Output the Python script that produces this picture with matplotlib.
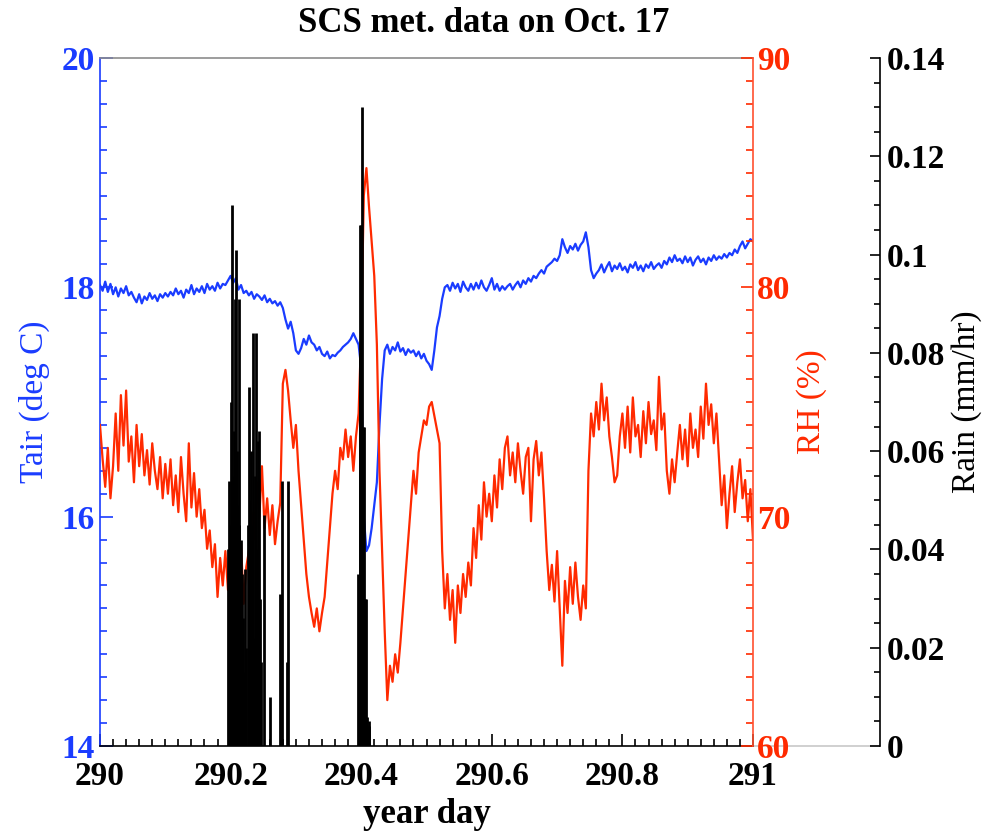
import numpy as np
import matplotlib
matplotlib.use('Agg')
import matplotlib.pyplot as plt
from matplotlib.ticker import MultipleLocator, FuncFormatter

plt.rcParams['font.family'] = ['Liberation Serif', 'DejaVu Serif']
plt.rcParams['font.weight'] = 'bold'

# ---------------- data ----------------
day_start = 290.0
day_step = 0.004   # regular sampling of the record

tair = [
    18.02, 17.97, 18.05, 17.96, 18.03, 17.94, 18.00, 17.92, 17.99, 17.95,
    18.01, 17.93, 17.96, 17.91, 17.87, 17.94, 17.86, 17.92, 17.89, 17.95,
    17.90, 17.93, 17.88, 17.94, 17.91, 17.95, 17.92, 17.96, 17.93, 17.99,
    17.94, 17.97, 17.91, 17.98, 17.95, 18.02, 17.94, 17.99, 17.96, 18.01,
    17.95, 18.03, 17.98, 18.01, 17.97, 18.04, 17.99, 18.03, 18.02, 18.06,
    18.10, 18.04, 18.08, 17.98, 18.02, 17.95, 17.97, 17.93, 17.96, 17.90,
    17.94, 17.92, 17.89, 17.93, 17.87, 17.90, 17.86, 17.88, 17.84, 17.87,
    17.82, 17.72, 17.64, 17.70, 17.60, 17.45, 17.42, 17.47, 17.55, 17.50,
    17.58, 17.52, 17.50, 17.45, 17.48, 17.42, 17.40, 17.44, 17.38, 17.41,
    17.40, 17.43, 17.45, 17.48, 17.50, 17.52, 17.55, 17.60, 17.55, 17.50,
    17.30, 16.00, 15.70, 15.75, 15.90, 16.10, 16.30, 16.80, 17.20, 17.45,
    17.50, 17.42, 17.48, 17.45, 17.52, 17.44, 17.47, 17.41, 17.46, 17.43,
    17.45, 17.40, 17.44, 17.38, 17.42, 17.36, 17.33, 17.28, 17.45, 17.65,
    17.75, 17.90, 18.00, 18.02, 17.97, 18.04, 17.99, 18.03, 17.96, 18.05,
    18.00, 17.97, 18.03, 17.98, 18.04, 17.99, 18.06, 18.00, 17.97, 18.02,
    18.08, 17.98, 18.03, 17.97, 18.01, 17.98, 18.01, 18.03, 17.98, 18.02,
    18.05, 18.00, 18.06, 18.03, 18.08, 18.05, 18.10, 18.08, 18.12, 18.15,
    18.12, 18.18, 18.20, 18.22, 18.25, 18.23, 18.28, 18.42, 18.35, 18.30,
    18.36, 18.33, 18.38, 18.32, 18.37, 18.40, 18.48, 18.35, 18.15, 18.08,
    18.12, 18.15, 18.20, 18.13, 18.18, 18.22, 18.14, 18.19, 18.16, 18.21,
    18.15, 18.18, 18.13, 18.20, 18.17, 18.22, 18.15, 18.19, 18.14, 18.20,
    18.17, 18.22, 18.16, 18.19, 18.21, 18.17, 18.23, 18.20, 18.26, 18.22,
    18.28, 18.23, 18.25, 18.21, 18.27, 18.22, 18.26, 18.19, 18.24, 18.27,
    18.22, 18.25, 18.20, 18.26, 18.23, 18.28, 18.24, 18.27, 18.25, 18.29,
    18.26, 18.30, 18.28, 18.33, 18.30, 18.36, 18.40, 18.34, 18.38, 18.42,
    18.40,
]

rh = [
    74.0, 72.5, 71.3, 73.0, 70.8, 72.2, 74.5, 72.0, 75.3, 73.1,
    75.5, 72.4, 73.5, 71.5, 74.0, 72.2, 73.6, 71.8, 72.9, 71.4,
    73.2, 72.0, 71.2, 72.6, 70.8, 72.3, 71.0, 72.5, 70.5, 71.8,
    70.2, 72.6, 71.0, 69.8, 73.2, 70.4, 71.9, 70.0, 71.2, 69.5,
    70.3, 68.6, 69.4, 67.8, 68.8, 66.5, 68.2, 67.0, 68.5, 66.8,
    68.0, 67.2, 69.0, 67.5, 68.8, 66.2, 67.8, 68.5, 70.2, 69.0,
    71.5, 70.0, 72.2, 69.5, 70.8, 69.2, 70.5, 68.8, 69.8, 70.6,
    75.8, 76.4, 75.5, 74.2, 73.0, 74.0, 72.0, 70.5, 69.0, 67.5,
    66.5, 65.8, 65.2, 66.0, 65.0, 65.8, 66.5, 68.0, 69.5, 71.0,
    72.0, 71.2, 73.0, 72.5, 73.8, 72.6, 73.5, 72.0, 73.5, 74.5,
    78.0, 84.0, 85.2, 83.5, 82.0, 80.5, 77.5, 72.0, 68.5, 65.0,
    62.0, 63.5, 62.8, 64.0, 63.2, 64.5, 66.0, 67.5, 69.0, 70.5,
    72.0, 71.0, 72.8, 73.5, 74.2, 74.0, 74.8, 75.0, 74.4, 73.8,
    73.2, 68.5, 66.0, 67.5, 65.5, 66.8, 64.5, 67.0, 65.8, 67.5,
    66.5, 68.0, 67.0, 69.5, 68.2, 70.5, 69.0, 71.5, 70.0, 71.0,
    69.8, 71.8, 70.4, 72.5, 71.2, 73.0, 73.5, 71.8, 72.8, 71.5,
    73.2, 72.0, 71.0, 72.6, 73.0, 69.8, 72.5, 73.3, 71.8, 72.8,
    70.8, 68.5, 66.8, 67.9, 66.3, 68.5, 66.0, 63.5, 67.2, 65.8,
    67.8, 66.2, 68.0, 66.5, 65.5, 67.0, 66.0, 72.0, 74.5, 73.5,
    75.0, 73.8, 75.8, 74.2, 75.2, 73.5, 72.6, 71.5, 71.8, 73.5,
    74.5, 73.0, 74.8, 72.8, 75.2, 73.5, 74.0, 72.6, 74.6, 73.2,
    75.0, 73.6, 74.2, 72.9, 76.1, 73.8, 74.5, 72.0, 71.0, 72.5,
    71.5, 72.8, 74.0, 72.5, 73.8, 72.2, 74.5, 73.0, 73.8, 72.6,
    74.8, 73.4, 75.8, 74.0, 74.9, 73.2, 74.5, 72.5, 70.5, 71.8,
    69.5, 71.0, 72.2, 70.2, 71.5, 72.5, 70.8, 71.6, 69.8, 71.2,
    69.0,
]

rain_day = [
    290.1960, 290.1980, 290.1995, 290.2006, 290.2021, 290.2037, 290.2047,
    290.2061, 290.2070, 290.2086, 290.2097, 290.2107, 290.2123, 290.2135,
    290.2152, 290.2167, 290.2184, 290.2205, 290.2225, 290.2242, 290.2266,
    290.2286, 290.2302, 290.2317, 290.2331, 290.2343, 290.2363, 290.2377,
    290.2392, 290.2406, 290.2418, 290.2440, 290.2455, 290.2470, 290.2507,
    290.2599, 290.2761, 290.2787, 290.2864, 290.2879,
    290.3958, 290.3974, 290.3986, 290.4000, 290.4017, 290.4029, 290.4045,
    290.4060, 290.4075, 290.4092, 290.4112, 290.4126,
]
rain_mm = [
    0.040, 0.054, 0.045, 0.070, 0.110, 0.055, 0.064,
    0.091, 0.031, 0.101, 0.060, 0.049, 0.091, 0.045,
    0.042, 0.035, 0.026, 0.015, 0.036, 0.020, 0.045,
    0.073, 0.050, 0.060, 0.045, 0.084, 0.022, 0.055,
    0.084, 0.040, 0.062, 0.064, 0.030, 0.017, 0.047,
    0.010, 0.031, 0.054, 0.017, 0.054,
    0.035, 0.080, 0.106, 0.106, 0.130, 0.065, 0.065,
    0.030, 0.030, 0.006, 0.005, 0.004,
]

title = 'SCS met. data on Oct. 17'
x_ticks = [290, 290.2, 290.4, 290.6, 290.8, 291]
tair_ticks = [14, 16, 18, 20]
rh_ticks = [60, 70, 80, 90]
rain_ticks = [0, 0.02, 0.04, 0.06, 0.08, 0.1, 0.12, 0.14]

# ---------------- styling ----------------
BLUE = '#1a3cff'
RED = '#ff2a00'
RED_SPINE = '#ff5030'
W, H = 1007, 835
TICK_FS = 24

fig = plt.figure(figsize=(W / 100, H / 100), dpi=100)
ax = fig.add_axes([100 / W, (H - 746) / H, 653 / W, 688 / H])

day_t = day_start + day_step * np.arange(len(tair))
day_r = day_start + day_step * np.arange(len(rh))

ax.plot(day_t, tair, color=BLUE, lw=1.6, zorder=3)
ax.set_xlim(290, 291)
ax.set_ylim(14, 20)

ax_rh = ax.twinx()
ax_rh.plot(day_r, rh, color=RED, lw=1.6)
ax_rh.set_ylim(60, 90)

ax_rain = ax.twinx()
ax_rain.vlines(rain_day, 0, rain_mm, color='black', lw=2.0)
ax_rain.set_ylim(0, 0.14)
ax_rain.spines['right'].set_position(('axes', (880 - 100) / 653))

gfmt = FuncFormatter(lambda v, p: '%g' % round(v, 4))

# host axes
ax.set_xticks(x_ticks)
ax.xaxis.set_minor_locator(MultipleLocator(0.02))
ax.xaxis.set_major_formatter(gfmt)
ax.set_yticks(tair_ticks)
ax.yaxis.set_minor_locator(MultipleLocator(0.2))
ax.tick_params(axis='x', which='both', direction='in', top=False, labelsize=TICK_FS,
               pad=11, color='black', width=1.2)
ax.tick_params(axis='x', which='major', length=9)
ax.tick_params(axis='x', which='minor', length=5)
ax.tick_params(axis='y', which='both', direction='in', right=False, labelsize=TICK_FS,
               colors=BLUE, pad=4, width=1.2)
ax.tick_params(axis='y', which='major', length=9)
ax.tick_params(axis='y', which='minor', length=5)
ax.spines['left'].set_color(BLUE)
ax.spines['top'].set_color('#8c8c8c')
ax.spines['right'].set_visible(False)
for s in ax.spines.values():
    s.set_linewidth(1.2)
ax.set_xlabel('year day', fontsize=25, fontweight='bold', labelpad=4)
ax.set_ylabel('Tair (deg C)', fontsize=24, fontweight='normal', color=BLUE, labelpad=8)

# RH axes
for k in ('top', 'bottom', 'left'):
    ax_rh.spines[k].set_visible(False)
ax_rh.spines['right'].set_color(RED_SPINE)
ax_rh.spines['right'].set_linewidth(1.2)
ax_rh.set_yticks(rh_ticks)
ax_rh.yaxis.set_minor_locator(MultipleLocator(1))
ax_rh.tick_params(axis='y', which='both', direction='in', labelsize=TICK_FS,
                  colors=RED, pad=3, width=1.2)
ax_rh.tick_params(axis='y', which='major', length=9)
ax_rh.tick_params(axis='y', which='minor', length=5)
ax_rh.set_ylabel('RH (%)', fontsize=24, fontweight='normal', color=RED, labelpad=4)

# Rain axes
for k in ('top', 'bottom', 'left'):
    ax_rain.spines[k].set_visible(False)
ax_rain.spines['right'].set_color('black')
ax_rain.spines['right'].set_linewidth(1.2)
ax_rain.set_yticks(rain_ticks)
ax_rain.yaxis.set_major_formatter(gfmt)
ax_rain.yaxis.set_minor_locator(MultipleLocator(0.005))
ax_rain.tick_params(axis='y', which='both', direction='in', labelsize=TICK_FS,
                    colors='black', pad=5, width=1.2)
ax_rain.tick_params(axis='y', which='major', length=7)
ax_rain.tick_params(axis='y', which='minor', length=4)
ax_rain.set_ylabel('Rain (mm/hr)', fontsize=24, fontweight='normal', color='black', labelpad=4)

# light baseline extension out to the rain axis
ax.plot([1, (880 - 100) / 653], [0, 0], transform=ax.transAxes, color='#c8c8c8',
        lw=1.2, clip_on=False, zorder=1)

fig.text(484 / W, 1 - 24 / H, title, ha='center', va='center',
         fontsize=25, fontweight='bold')

fig.savefig('out.png', dpi=100, facecolor='white')
